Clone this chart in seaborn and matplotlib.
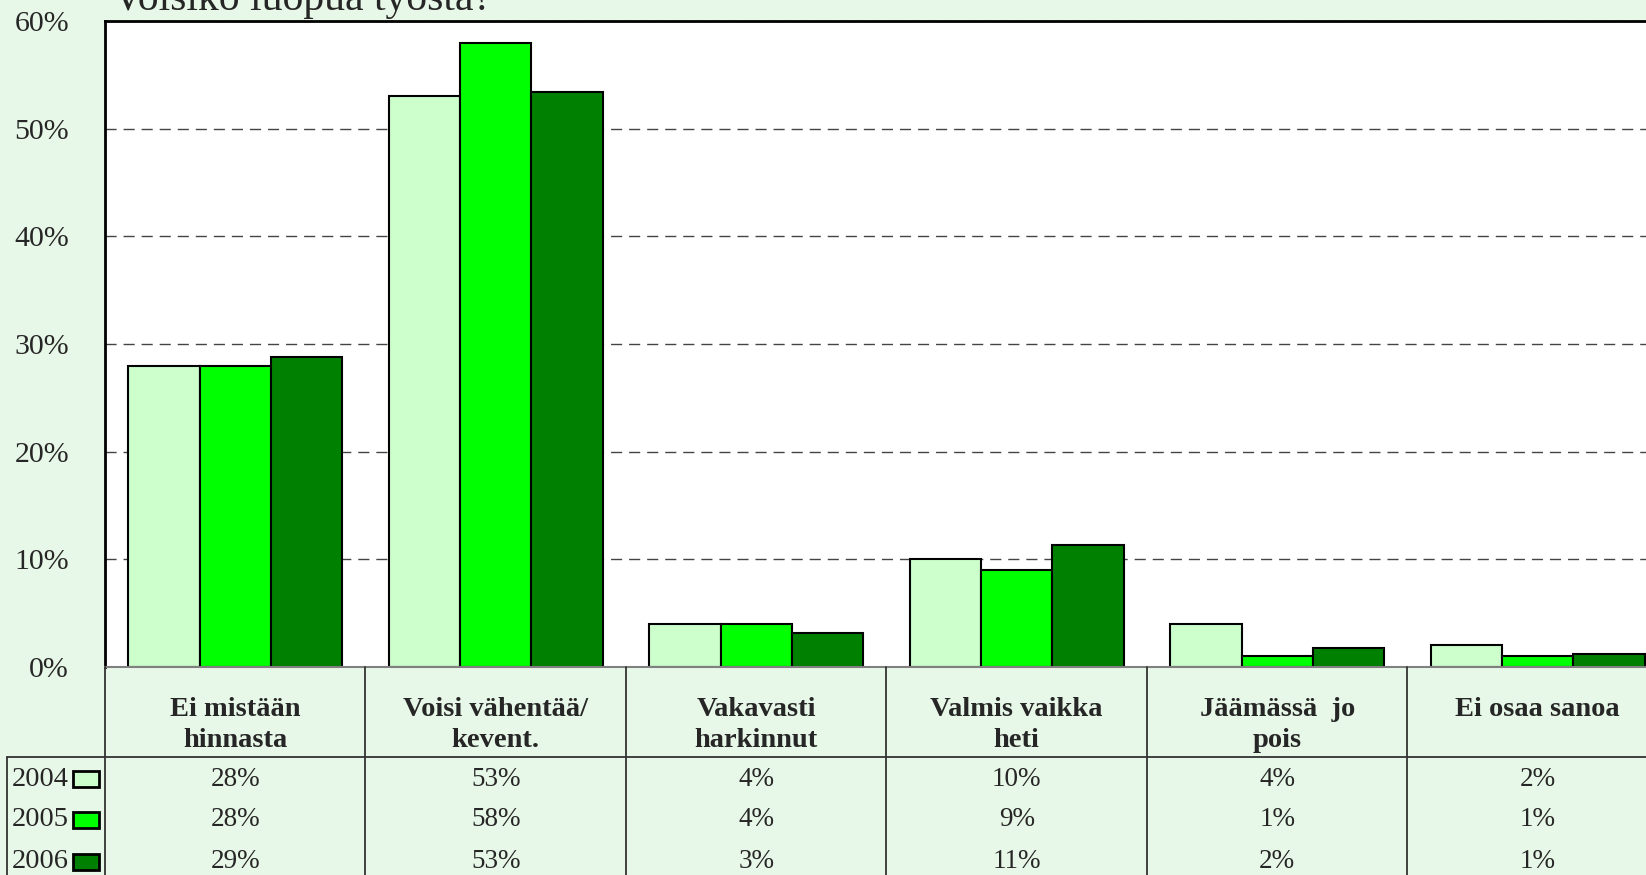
import matplotlib
matplotlib.use("Agg")
import matplotlib.pyplot as plt
from matplotlib.patches import Rectangle
import seaborn as sns
import pandas as pd

# Data
categories = ["Ei mistään\nhinnasta", "Voisi vähentää/\nkevent.", "Vakavasti\nharkinnut",
              "Valmis vaikka\nheti", "Jäämässä  jo\npois", "Ei osaa sanoa"]
years = ["2004", "2005", "2006"]
v2004 = [28, 53, 4, 10, 4, 2]
v2005 = [28, 58, 4, 9, 1, 1]
v2006 = [28.8, 53.4, 3.2, 11.3, 1.8, 1.2]
yticks = [0, 10, 20, 30, 40, 50, 60]
title = "Voisiko luopua työstä?"

colors = ["#CCFFCC", "#00FF00", "#008000"]
bg = "#E8F8E8"

# Long-form table for seaborn
series = [v2004, v2005, v2006]
rows = []
for year, vals in zip(years, series):
    for cat, v in zip(categories, vals):
        rows.append({"category": cat, "year": year, "value": v})
df = pd.DataFrame(rows)

sns.set_style("white")
plt.rcParams["font.family"] = ["Liberation Serif", "DejaVu Serif"]

W, H = 1646, 875
fig = plt.figure(figsize=(W / 100, H / 100), dpi=100, facecolor=bg)

# Pixel layout
left_px, cat_px = 105, 260.5
top_px, base_px = 21, 667
ax_w = 6 * cat_px / W

ax = fig.add_axes([left_px / W, 1 - base_px / H, ax_w, (base_px - top_px) / H])
ax.set_facecolor("white")
sns.barplot(data=df, x="category", y="value", hue="year", order=categories,
            palette=colors, saturation=1, width=0.82, edgecolor="black",
            linewidth=1.5, legend=False, ax=ax, zorder=3)
ax.set_xlim(-0.5, 5.5)
ax.set_ylim(0, 60)
ax.set_yticks(yticks)
ax.set_yticklabels([f"{t}%" for t in yticks], fontsize=21.5)
ax.tick_params(axis="y", length=0, pad=26)
ax.set_xticks([])
ax.set_xlabel("")
ax.set_ylabel("")
ax.yaxis.grid(True, linestyle=(0, (8, 5)), color="#444444", linewidth=1)
ax.set_axisbelow(True)
for side in ["left", "top"]:
    ax.spines[side].set_color("black")
    ax.spines[side].set_linewidth(2)
ax.spines["right"].set_visible(False)
ax.spines["bottom"].set_color("#808080")
ax.spines["bottom"].set_linewidth(1.5)
ax.spines["bottom"].set_zorder(4)

# Title (partly cut off at top, like the reference)
fig.text(113 / W, 1 - 10 / H, title, fontsize=30, va="baseline", ha="left")

# Data table below the chart
tab = fig.add_axes([left_px / W, 0, ax_w, 1 - base_px / H])
tab.set_xlim(-0.5, 5.5)
tab.set_ylim(H, base_px)
tab.axis("off")


def px2x(px):
    return -0.5 + (px - left_px) / cat_px


line_col = "#333333"
for i in range(7):
    tab.plot([i - 0.5, i - 0.5], [base_px, H], color=line_col, lw=1.3, clip_on=False)
tab.plot([px2x(7), 5.5], [757, 757], color=line_col, lw=1.3, clip_on=False)
tab.plot([px2x(7), px2x(7)], [757, H], color=line_col, lw=1.3, clip_on=False)

for i, cat in enumerate(categories):
    tab.text(i, 697, cat, ha="center", va="top", fontsize=20.5,
             fontweight="bold", linespacing=1.3)

row_y = [779, 820, 862]
for year, vals, col, y in zip(years, series, colors, row_y):
    tab.text(px2x(69), y, year, ha="right", va="center", fontsize=20.5, clip_on=False)
    tab.add_patch(Rectangle((px2x(73), y + 8), px2x(99) - px2x(73), -16,
                            facecolor=col, edgecolor="black", lw=2, clip_on=False))
    for i, v in enumerate(vals):
        tab.text(i, y, f"{round(v)}%", ha="center", va="center", fontsize=19.5)

fig.savefig("out.png", dpi=100, facecolor=bg)
